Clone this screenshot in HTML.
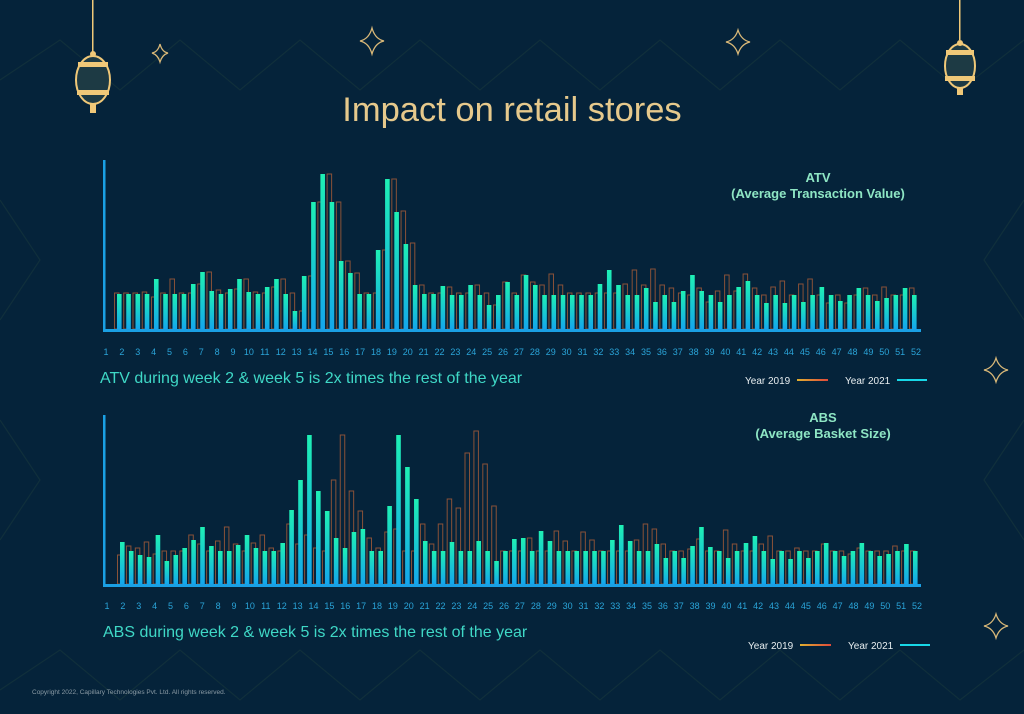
<!DOCTYPE html>
<html><head><meta charset="utf-8"><style>
html,body{margin:0;padding:0;background:#05233a;}
svg{display:block;font-family:"Liberation Sans",sans-serif;}
</style></head><body>
<svg width="1024" height="714" viewBox="0 0 1024 714" id="root">
<defs>
<linearGradient id="barg" x1="0" y1="0" x2="0" y2="1"><stop offset="0" stop-color="#1ef0b4"/><stop offset="1" stop-color="#14a6ec"/></linearGradient>
<linearGradient id="l19" x1="0" x2="1"><stop offset="0" stop-color="#e0b030"/><stop offset="1" stop-color="#e04a3a"/></linearGradient>
</defs>
<rect width="1024" height="714" fill="#05233a"/>
<g stroke="#16343c" stroke-width="1.2" fill="none" opacity="0.7">
<path d="M0 80 L60 40 L120 90 L180 40 L240 90 L300 40 L360 90 L420 40 L480 90 L540 40 L600 90 L660 40 L720 90 L780 40 L840 90 L900 40 L960 90 L1024 40"/>
<path d="M0 690 L60 650 L120 700 L180 650 L240 700 L300 650 L360 700 L420 650 L480 700 L540 650 L600 700 L660 650 L720 700 L780 650 L840 700 L900 650 L960 700 L1024 650"/>
<path d="M0 200 L40 260 L0 320 M0 420 L40 480 L0 540 M1024 200 L984 260 L1024 320 M1024 420 L984 480 L1024 540"/>
</g>
<g fill="#f0c878">
<rect x="92" y="0" width="1.5" height="52"/><ellipse cx="93" cy="80" rx="17" ry="24" fill="#1d3a44" stroke="#f0c878" stroke-width="2"/>
<rect x="78" y="62" width="30" height="5"/><rect x="77" y="90" width="32" height="5"/><circle cx="93" cy="54" r="3"/><rect x="90" y="103" width="6" height="10"/>
</g>
<g fill="#f0c878">
<rect x="959" y="0" width="1.5" height="40"/><ellipse cx="960" cy="66" rx="15" ry="22" fill="#1d3a44" stroke="#f0c878" stroke-width="2"/>
<rect x="946" y="50" width="28" height="5"/><rect x="945" y="76" width="30" height="5"/><circle cx="960" cy="43" r="3"/><rect x="957" y="87" width="6" height="8"/>
</g>
<g fill="none" stroke="#d9b878" stroke-width="1.3">
<path d="M160 44 Q162 52 168 53 Q162 55 160 62 Q158 55 152 53 Q158 52 160 44Z"/>
<path d="M372 28 Q375 39 384 41 Q375 43 372 54 Q369 43 360 41 Q369 39 372 28Z"/>
<path d="M738 30 Q741 40 750 42 Q741 44 738 54 Q735 44 726 42 Q735 40 738 30Z"/>
<path d="M996 358 Q999 368 1008 370 Q999 372 996 382 Q993 372 984 370 Q993 368 996 358Z"/>
<path d="M996 614 Q999 624 1008 626 Q999 628 996 638 Q993 628 984 626 Q993 624 996 614Z"/>
</g>
<text x="512" y="121" text-anchor="middle" font-size="34.5" fill="#e6c98c">Impact on retail stores</text>

<text x="818" y="182" text-anchor="middle" font-size="13" font-weight="bold" fill="#8ee6c4">ATV</text>
<text x="818" y="198" text-anchor="middle" font-size="13" font-weight="bold" fill="#8ee6c4">(Average Transaction Value)</text>
<text x="823" y="422" text-anchor="middle" font-size="13" font-weight="bold" fill="#8ee6c4">ABS</text>
<text x="823" y="438" text-anchor="middle" font-size="13" font-weight="bold" fill="#8ee6c4">(Average Basket Size)</text>

<g id="chart1"></g>
<g id="chart2"></g>

<text x="100" y="383" font-size="16" fill="#3fd8c6">ATV during week 2 &amp; week 5 is 2x times the rest of the year</text>
<text x="103" y="637" font-size="16" fill="#3fd8c6">ABS during week 2 &amp; week 5 is 2x times the rest of the year</text>

<g font-size="10" fill="#e8eef0">
<text x="745" y="384">Year 2019</text>
<rect x="797" y="379" width="31" height="2" fill="url(#l19)"/>
<text x="845" y="384">Year 2021</text>
<rect x="897" y="379" width="30" height="2" fill="#18d8e8"/>
</g>
<g font-size="10" fill="#e8eef0">
<text x="748" y="649">Year 2019</text>
<rect x="800" y="644" width="31" height="2" fill="url(#l19)"/>
<text x="848" y="649">Year 2021</text>
<rect x="900" y="644" width="30" height="2" fill="#18d8e8"/>
</g>
<text x="32" y="694" font-size="6.5" fill="#8a9aa4">Copyright 2022, Capillary Technologies Pvt. Ltd. All rights reserved.</text>
</svg>
<script>
const atv2021 = [35,35,35,35,50,35,35,35,45,57,38,35,40,50,37,35,42,50,35,18,53,127,155,127,68,56,35,35,79,150,117,85,44,35,35,43,
34,34,44,34,24,34,47,34,54,44,34,34,34,34,34,34,45,59,44,34,34,41,27,34,27,38,54,38,34,27,34,42,48,34,26,34,26,34,27,34,42,34,28,34,41,34,28,31,34,41,34];
const atv2019 = [36,36,36,37,32,36,50,36,36,45,57,39,36,40,50,37,36,42,50,36,18,53,127,155,127,68,56,36,36,79,150,118,86,44,36,36,
42,36,36,44,36,24,47,36,54,47,44,55,44,36,36,36,36,36,36,45,59,44,60,44,41,36,34,41,27,38,54,38,55,41,34,42,48,34,45,50,34,26,34,26,34,41,34,42,34,34,41];
const abs2021 = [42,33,29,27,49,23,29,36,44,57,38,33,33,39,49,36,33,33,41,74,104,149,93,73,46,36,52,55,33,33,78,149,117,85,43,33,33,42,33,33,43,33,23,33,45,
46,33,53,43,33,33,33,33,33,33,44,59,43,33,33,40,26,33,26,38,57,37,33,26,33,41,48,33,25,33,25,33,26,33,41,33,28,33,41,33,28,30,33,40,33];
const abs2019 = [29,38,36,42,30,33,33,33,49,40,33,43,57,40,33,41,49,36,33,60,40,49,36,33,104,149,93,73,46,36,52,55,33,33,60,40,60,85,76,131,153,120,78,33,33,
33,46,33,33,53,43,33,52,44,33,33,33,33,44,60,55,40,33,33,35,45,33,33,54,40,33,33,40,48,33,33,36,33,33,40,33,33,30,36,33,33,33,38,33,33];
const weekLabels = [];
for (let w = 1; w <= 52; w++) weekLabels.push(String(w));

const NS = 'http://www.w3.org/2000/svg';
function mk(tag, attrs, parent) {
  const e = document.createElementNS(NS, tag);
  for (const k in attrs) e.setAttribute(k, attrs[k]);
  parent.appendChild(e);
  return e;
}
function drawChart(gid, vals21, vals19, cfg) {
  const g = document.getElementById(gid);
  const n = vals21.length;
  const step = (cfg.x1 - cfg.x0) / (n - 1);
  const xScale = i => cfg.x0 + i * step;
  const yScale = v => cfg.base - v * cfg.k;
  for (let i = 0; i < n; i++) {
    if (vals19[i] !== undefined) {
      const r = mk('rect', {x: xScale(i) - 2.5, y: yScale(vals19[i]), width: 4.5, height: cfg.base - yScale(vals19[i]), fill: 'none', stroke: '#8a5238', 'stroke-width': 1}, g);
      
      
    }
  }
  for (let i = 0; i < n; i++) {
    const r = mk('rect', {x: xScale(i), y: yScale(vals21[i]), width: 4.6, height: cfg.base - yScale(vals21[i]), fill: 'url(#barg)'}, g);
    
    
  }
  const ya = mk('rect', {x: 103, y: cfg.top, width: 2.5, height: cfg.base - cfg.top + 2, fill: '#1aa0e4'}, g);
  
  
  const xa = mk('rect', {x: 103, y: cfg.base, width: 818, height: 3, fill: '#1aa0e4'}, g);
  
  
  const lstep = (cfg.l1 - cfg.l0) / (weekLabels.length - 1);
  weekLabels.forEach((t, i) => {
    const tx = mk('text', {x: cfg.l0 + i * lstep, y: cfg.ly, 'text-anchor': 'middle', 'font-size': 9, fill: '#2aa4d8'}, g);
    tx.textContent = t;
    
    
  });
}
drawChart('chart1', atv2021, atv2019, {x0: 117, x1: 912, base: 329, top: 160, k: 1, l0: 106, l1: 916, ly: 355});
drawChart('chart2', abs2021, abs2019, {x0: 120, x1: 913, base: 584, top: 415, k: 1, l0: 107, l1: 917, ly: 609});
</script>
</body></html>
